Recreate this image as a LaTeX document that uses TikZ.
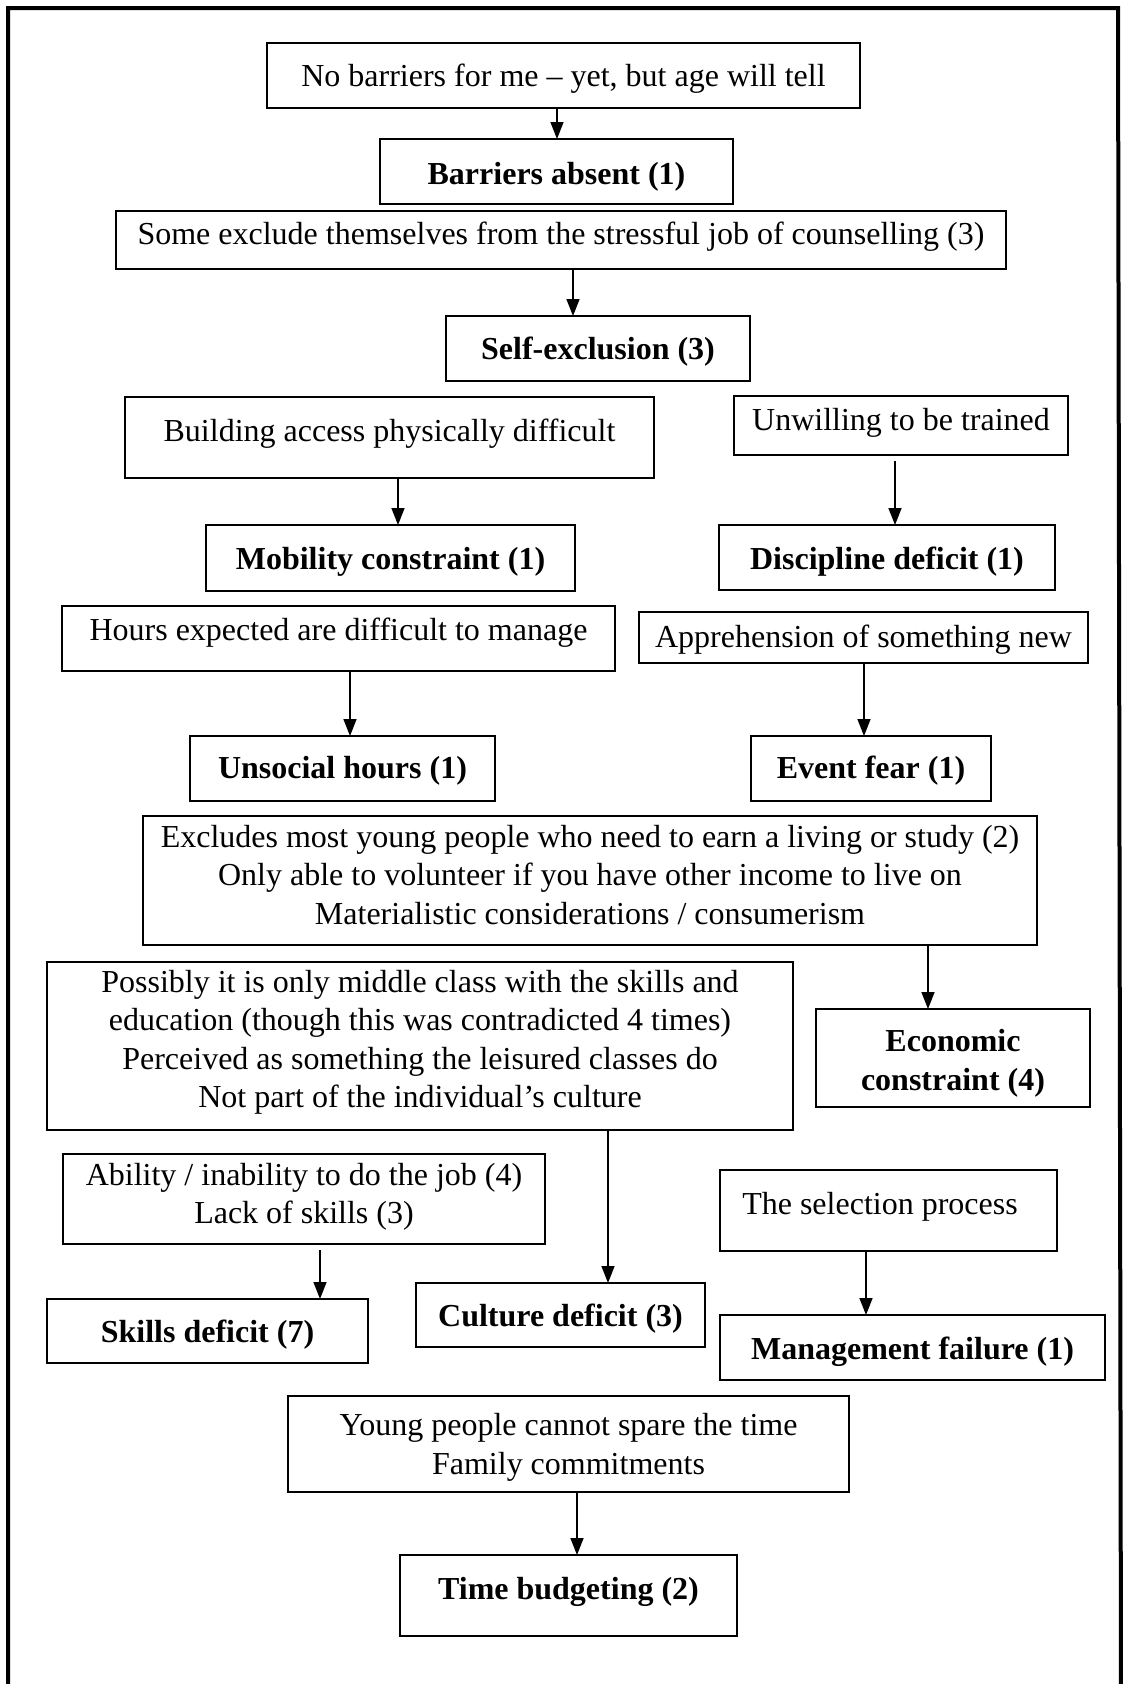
\documentclass[tikz,border=0pt]{standalone}
\usepackage{fontspec}
\setmainfont{Liberation Serif}
\usetikzlibrary{arrows.meta,fit}

% a framed box spanning two corners: name, x1, y1, x2, y2
\newcommand{\panel}[5]{%
  \path (#2,#3) coordinate (#1-nw) (#4,#5) coordinate (#1-se);
  \node[box, fit=(#1-nw)(#1-se)] (#1) {};
}

\begin{document}
\begin{tikzpicture}[x=1pt, y=-1pt,
  box/.style={draw, line width=2pt, inner sep=0pt, outer sep=0pt},
  txt/.style={align=center, inner sep=0pt, yshift=-3.5pt,
    font=\fontsize{32}{38.5}\selectfont,
    execute at begin node=\strut, execute at end node=\strut},
  head/.style={txt, font=\fontsize{32}{38.5}\selectfont\bfseries},
  arr/.style={line width=1.5pt, -{Triangle[length=17pt, width=13pt]}}]

\useasboundingbox (0,0) rectangle (1124,1684);
\fill[white] (0,0) rectangle (1124,1684);

% outer frame, open at the foot of the page
\draw[line width=4pt, line join=miter] (8,1700) -- (8,8) -- (1118,8) -- (1121,1700);

% boxes
\panel{b1}{267}{43}{860}{108}
\panel{b2}{380}{139}{733}{204}
\panel{b3}{116}{211}{1006}{269}
\panel{b4}{446}{316}{750}{381}
\panel{b5}{125}{397}{654}{478}
\panel{b6}{734}{396}{1068}{455}
\panel{b7}{206}{525}{575}{591}
\panel{b8}{719}{525}{1055}{590}
\panel{b9}{62}{606}{615}{671}
\panel{b10}{639}{612}{1088}{663}
\panel{b11}{190}{736}{495}{801}
\panel{b12}{751}{736}{991}{801}
\panel{b13}{143}{816}{1037}{945}
\panel{b14}{47}{962}{793}{1130}
\panel{b15}{816}{1009}{1090}{1107}
\panel{b16}{63}{1154}{545}{1244}
\panel{b17}{720}{1170}{1057}{1251}
\panel{b18}{47}{1299}{368}{1363}
\panel{b19}{416}{1283}{705}{1347}
\panel{b20}{720}{1315}{1105}{1380}
\panel{b21}{288}{1396}{849}{1492}
\panel{b22}{400}{1555}{737}{1636}

% texts
\node[txt]  (t1)  at (563.5,75)  {No barriers for me – yet, but age will tell};
\node[head] (t2)  at (556.5,173) {Barriers absent (1)};
\node[txt]  (t3)  at (561,233)   {Some exclude themselves from the stressful job of counselling (3)};
\node[head] (t4)  at (598,348)   {Self-exclusion (3)};
\node[txt]  (t5)  at (389.5,430) {Building access physically difficult};
\node[txt]  (t6)  at (901,419)   {Unwilling to be trained};
\node[head] (t7)  at (390.5,558) {Mobility constraint (1)};
\node[head] (t8)  at (887,558)   {Discipline deficit (1)};
\node[txt]  (t9)  at (338.5,629) {Hours expected are difficult to manage};
\node[txt]  (t10) at (863.5,636) {Apprehension of something new};
\node[head] (t11) at (342.5,767) {Unsocial hours (1)};
\node[head] (t12) at (871,767)   {Event fear (1)};
\node[txt]  (t13) at (590,877)   {Excludes most young people who need to earn a living or study (2)\\
  Only able to volunteer if you have other income to live on\\
  Materialistic considerations / consumerism};
\node[txt]  (t14) at (420,1041)  {Possibly it is only middle class with the skills and\\
  education (though this was contradicted 4 times)\\
  Perceived as something the leisured classes do\\
  Not part of the individual’s culture};
\node[head] (t15) at (953,1062)  {Economic\\constraint (4)};
\node[txt]  (t16) at (304,1195.5) {Ability / inability to do the job (4)\\Lack of skills (3)};
\node[txt]  (t17) at (880,1203)  {The selection process};
\node[head] (t18) at (207.5,1331) {Skills deficit (7)};
\node[head] (t19) at (560.5,1315) {Culture deficit (3)};
\node[head] (t20) at (912.5,1348) {Management failure (1)};
\node[txt]  (t21) at (568.5,1446) {Young people cannot spare the time\\Family commitments};
\node[head] (t22) at (568.5,1588) {Time budgeting (2)};

% connectors
\draw[arr] (b1.south -| 557,0) -- (b2.north -| 557,0);
\draw[arr] (b3.south -| 573,0) -- (b4.north -| 573,0);
\draw[arr] (b5.south -| 398,0) -- (b7.north -| 398,0);
\draw[arr, shorten <=6pt] (b6.south -| 895,0) -- (b8.north -| 895,0);
\draw[arr] (b9.south -| 350,0) -- (b11.north -| 350,0);
\draw[arr] (b10.south -| 864,0) -- (b12.north -| 864,0);
\draw[arr] (b13.south -| 928,0) -- (b15.north -| 928,0);
\draw[arr] (b14.south -| 608,0) -- (b19.north -| 608,0);
\draw[arr, shorten <=6pt] (b16.south -| 320,0) -- (b18.north -| 320,0);
\draw[arr] (b17.south -| 866,0) -- (b20.north -| 866,0);
\draw[arr] (b21.south -| 577,0) -- (b22.north -| 577,0);
\end{tikzpicture}
\end{document}
